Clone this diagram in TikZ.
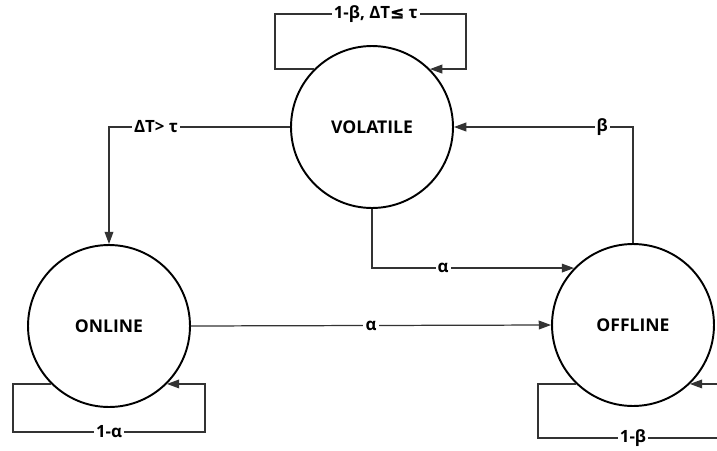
\documentclass[tikz,border=0pt]{standalone}
\usepackage{fontspec}
\setmainfont{Open Sans}
\newfontfamily\symf{DejaVu Sans}[FakeBold=1.2]
\usetikzlibrary{arrows.meta}
\begin{document}
\begin{tikzpicture}[x=0.02cm,y=-0.02cm,
  state/.style={circle,draw=black,line width=1.1pt,minimum size=3.24cm,inner sep=0pt,font=\fontsize{10}{12}\selectfont\bfseries},
  conn/.style={draw=black!80,line width=0.7pt},
  arr/.style={conn,-{Triangle[length=7pt,width=5pt]}},
  lbl/.style={fill=white,inner sep=1.2pt,font=\fontsize{9.6}{12}\selectfont\bfseries}]
\useasboundingbox (0,0) rectangle (717,450);
\node[state] (vol) at (372,127) {VOLATILE};
\node[state] (onl) at (109,326) {ONLINE};
\node[state] (off) at (633,325) {OFFLINE};
\coordinate (tl) at (275,14);
\coordinate (tr) at (466,14);
\coordinate (ol) at (13,432);
\coordinate (or) at (205,432);
\coordinate (fl) at (538,438);
\coordinate (fr) at (728,438);
% top self loop
\draw[arr] (vol.135) -| (tl) -- node[lbl,xshift=3pt]{1-β, ΔT{\symf ≤} τ} (tr) |- (vol.45);
% volatile -> online
\draw[arr] (vol.west) -| node[lbl,pos=0.37]{ΔT> τ} (onl.north);
% volatile -> offline
\draw[arr] (vol.south) |- node[lbl,pos=0.676]{α} (off.136.5);
% offline -> volatile
\draw[arr] (off.north) |- node[lbl,pos=0.586]{β} (vol.east);
% online -> offline
\draw[arr] (onl.east) -- node[lbl]{α} (off.west);
% online self loop
\draw[arr] (onl.225) -| (ol) -- node[lbl]{1-α} (or) |- (onl.315);
% offline self loop (clipped at right edge)
\begin{scope}
\clip (0,0) rectangle (717,450);
\draw[arr] (off.226) -| (fl) -- node[lbl]{1-β} (fr) |- (off.314);
\end{scope}
\end{tikzpicture}
\end{document}
